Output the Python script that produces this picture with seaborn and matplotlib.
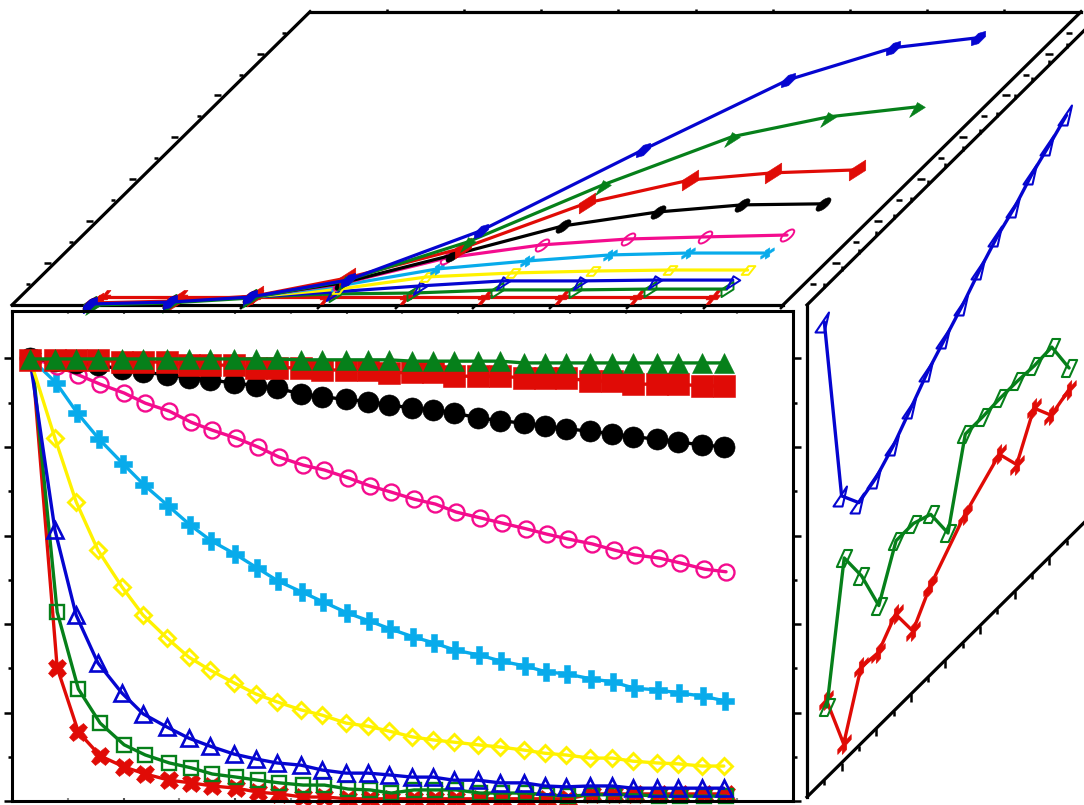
import numpy as np
import matplotlib
matplotlib.use("Agg")
import matplotlib.pyplot as plt
import seaborn as sns
from matplotlib.markers import MarkerStyle
from matplotlib.path import Path
from matplotlib.transforms import Affine2D

# ---------- front panel data ----------
time_h = [0.32,0.77,1.15,1.54,1.97,2.35,2.78,3.17,3.55,3.98,4.37,4.75,5.18,5.56,5.99,6.38,6.76,
          7.17,7.55,7.92,8.35,8.75,9.18,9.55,9.93,10.36,10.76,11.13,11.56,11.94,12.37,12.76]
red_square = [.997,.997,.997,.997,.992,.992,.992,.985,.985,.985,.979,.979,.979,.974,.974,.974,.967,
              .969,.969,.960,.960,.960,.956,.956,.956,.949,.949,.942,.942,.942,.938,.938]
green_tri = [.999]*12 + [.997]*5 + [.994]*5 + [.990]*10
black_circle = [1,.994,.990,.985,.976,.969,.963,.956,.951,.945,.938,.933,.920,.913,.908,.902,.895,
                .888,.884,.877,.866,.859,.854,.847,.841,.836,.829,.823,.818,.811,.805,.800]
pink_circle = [1,.983,.963,.942,.922,.899,.881,.856,.838,.820,.800,.777,.759,.748,.730,.712,.698,
               .682,.671,.653,.640,.628,.615,.603,.592,.581,.567,.556,.549,.538,.524,.518]
cyan_plus = [1,.945,.877,.818,.762,.714,.667,.624,.588,.558,.527,.497,.472,.450,.425,.407,.389,
             .371,.357,.341,.330,.316,.305,.292,.287,.276,.269,.255,.251,.244,.237,.226]
yellow_diamond = [1,.820,.676,.567,.484,.420,.368,.325,.296,.267,.242,.224,.206,.194,.176,.169,.158,
                  .145,.138,.133,.127,.122,.115,.108,.104,.097,.097,.090,.086,.084,.079,.079]
blue_tri = [1,.612,.420,.312,.244,.197,.167,.142,.124,.106,.095,.086,.081,.070,.063,.063,.059,
            .054,.054,.047,.047,.041,.041,.034,.032,.034,.034,.029,.029,.029,.029,.029]
green_square = [1,.427,.253,.176,.127,.104,.086,.075,.061,.054,.047,.041,.036,.036,.027,.025,.018,
                .025,.025,.025,.018,.018,.018,.014,.011,.014,.014,.014,.011,.011,.011,.011]
red_x = [1,.301,.156,.102,.077,.061,.047,.041,.034,.029,.020,.016,.009,.009] + [.005]*11 + [.016]*7

# ---------- top panel data (position, depth) ----------
head_x = [1.0,2.01,2.98]
head_z = [.05,.14,.38]
top_blue_x = [1.0,2.01,2.98,4.03,5.10,6.14,7.10,8.04,9.01]
top_blue_z = [.05,.14,.38,1.19,3.54,7.41,10.75,12.28,12.76]
top_green_x = [1.05,2.02,3.0,4.0,5.08,6.08,7.12,8.11,9.13]
top_green_z = [0,.10,.33,1.15,3.01,5.73,8.03,8.98,9.46]
top_red_x = [1.05,2.06,3.03,3.99,5.1,6.11,7.15,8.13,9.18]
top_red_z = [.10,.19,.43,1.29,2.72,4.87,5.97,6.31,6.45]
top_black_x = head_x + [3.99,5.06,6.1,7.15,8.15,9.19]
top_black_z = head_z + [1.05,2.39,3.77,4.44,4.78,4.83]
top_pink_x = head_x + [3.98,5.02,6.08,7.12,8.09,9.13]
top_pink_z = head_z + [1.0,2.25,2.87,3.15,3.25,3.34]
top_cyan_x = head_x + [3.98,5.04,6.1,7.10,8.08,9.11]
top_cyan_z = head_z + [.91,1.72,2.10,2.39,2.48,2.48]
top_yellow_x = head_x + [4.03,5.01,6.08,7.09,8.07,9.08]
top_yellow_z = head_z + [.76,1.34,1.53,1.62,1.67,1.67]
top_bluetri_x = head_x + [3.99,5.04,6.05,7.05,8.01,9.02]
top_bluetri_z = head_z + [.62,.91,1.15,1.15,1.19,1.19]
top_greensq_x = head_x + [4.04,5.04,6.09,7.1,8.06,9.06]
top_greensq_z = head_z + [.53,.57,.72,.72,.76,.76]
top_redx_x = [1.08,2.08,3.06,3.98,5.02,6.03,7.03,8.0,8.99]
top_redx_z = [.38]*9

# ---------- right panel data ----------
right_blue_x = [1,2,3,4,5,6,7,8,9,10,11,12,13,14,15]
right_blue = [1.035,.603,.549,.567,.601,.646,.692,.728,.764,.805,.841,.868,.904,.931,.960]
right_green_x = [1.15,2.15,3.15,4.15,5.15,6.15,7.15,8.15,9.15,10.15,11.15,12.15,13.15,14.15,15.15]
right_green = [.159,.457,.378,.272,.380,.380,.362,.281,.466,.466,.469,.469,.466,.469,.383]
right_red_x = [1.12,2.12,3.12,4.12,5.12,6.12,7.12,9.12,11.12,12.12,13.12,14.12,15.12]
right_red = [.176,.038,.172,.167,.215,.138,.201,.285,.344,.282,.371,.316,.334]

# ---------- colours ----------
RED, GREEN, BLUE = "#E00B06", "#06801A", "#0505D0"
PINK, CYAN, YELLOW, BLACK = "#F40C8E", "#08ABEB", "#FFF200", "#000000"

W, H, DPI = 1084, 805, 100
sns.set_theme(style="white")
plt.rcParams["font.family"] = ["DejaVu Sans"]
fig = plt.figure(figsize=(W / DPI, H / DPI), dpi=DPI, facecolor="white")

PX = 72 / DPI


def sheared(code, size_px, a, b, c, d):
    """A marker drawn as if the panel's affine squeeze applied to it."""
    m = MarkerStyle(code)
    p = m.get_path().transformed(m.get_transform())
    verts = p.vertices @ np.array([[a, c], [b, d]]).T
    q = Path(verts, p.codes)
    extent = np.max(np.abs(verts))
    return q, size_px * PX * extent / 0.5


def draw(ax, x, y, color, marker, ms, open_=False, lw=2.4, mew=1.7, **kw):
    sns.lineplot(x=np.asarray(x, float), y=np.asarray(y, float), ax=ax, color=color,
                 estimator=None, sort=False, errorbar=None, linewidth=lw, marker=marker,
                 markersize=ms, markeredgecolor=color,
                 markerfacecolor="none" if open_ else color,
                 markeredgewidth=mew if open_ else 0.4, clip_on=False, **kw)


# ---------- overlay for sheared panels ----------
over = fig.add_axes([0, 0, 1, 1])
over.set_xlim(0, W)
over.set_ylim(0, H)
over.axis("off")

T_top = Affine2D.from_values(77.1, 0, 21.29, 20.95, 12, H - 305) + Affine2D()
T_right = Affine2D.from_values(17.3, 17.13, 0, 442.5, 807, H - 797)
LK = dict(color="black", lw=2.3, clip_on=False, solid_capstyle="projecting")
TK = dict(color="black", ls="none", clip_on=False)

# top panel frame
over.plot([0, 10], [0, 0], transform=T_top + over.transData, **LK)
over.plot([10, 10], [0, 14], transform=T_top + over.transData, **LK)
over.plot([0, 10], [14, 14], transform=T_top + over.transData, **LK)
over.plot([0, 0], [0, 14], transform=T_top + over.transData, **LK)
slant = Path([(0, 0), (-1, -1)], [Path.MOVETO, Path.LINETO])
tr_t = T_top + over.transData
xt = np.arange(1, 11)
over.plot(xt, 0 * xt, marker=slant, ms=5, mew=1.8, transform=tr_t, **TK)
xt = np.arange(1, 10)
over.plot(xt, 0 * xt + 14, marker=2, ms=2.5, mew=1.8, transform=tr_t, **TK)
z_odd, z_even = np.arange(1, 14, 2), np.arange(2, 14, 2)
over.plot(0 * z_odd - 0.04, z_odd, marker=0, ms=3, mew=1.8, transform=tr_t, **TK)
over.plot(0 * z_even - 0.05, z_even, marker=0, ms=5, mew=1.8, transform=tr_t, **TK)
over.plot(0 * z_odd + 10.08, z_odd, marker=1, ms=4.3, mew=1.8, transform=tr_t, **TK)
over.plot(0 * z_even + 10.08, z_even, marker=1, ms=6, mew=1.8, transform=tr_t, **TK)

# top panel series
A_TOP = (0.75, 0.478, 0.0, 0.47)
top_series = [
    (top_redx_x, top_redx_z, RED, "X", 20, False),
    (top_greensq_x, top_greensq_z, GREEN, "s", 16, True),
    (top_bluetri_x, top_bluetri_z, BLUE, "^", 18, True),
    (top_yellow_x, top_yellow_z, YELLOW, "D", 13, True),
    (top_cyan_x, top_cyan_z, CYAN, "P", 18, False),
    (top_pink_x, top_pink_z, PINK, "o", 18, True),
    (top_black_x, top_black_z, BLACK, "o", 20, False),
    (top_red_x, top_red_z, RED, "s", 22, False),
    (top_green_x, top_green_z, GREEN, "^", 21, False),
    (top_blue_x, top_blue_z, BLUE, "h", 22, False),
]
for x, z, col, code, size, op in top_series:
    mk, ms = sheared(code, size, *A_TOP)
    draw(over, x, z, col, mk, ms, open_=op, lw=2.3, mew=1.4, transform=tr_t)

# right panel frame
tr_r = T_right + over.transData
V_TOP = 1.112
over.plot([0, 0], [0, V_TOP], transform=tr_r, **LK)
over.plot([0, 16.2], [0, 0], transform=tr_r, **LK)
over.plot([0, 16.2], [V_TOP, V_TOP], transform=tr_r, **LK)
x_odd, x_even = np.arange(1, 16, 2), np.arange(2, 16, 2)
over.plot(x_odd, 0 * x_odd, marker=3, ms=3.5, mew=1.8, transform=tr_r, **TK)
over.plot(x_even, 0 * x_even, marker=3, ms=5.5, mew=1.8, transform=tr_r, **TK)
xt = np.arange(1, 16)
over.plot(xt, 0 * xt + V_TOP, marker=2, ms=3.5, mew=1.8, transform=tr_r, **TK)

# right panel series
A_RIGHT = (0.45, 0.0, 0.45, 1.0)
right_series = [
    (right_red_x, right_red, RED, "X", 20, False),
    (right_green_x, right_green, GREEN, "s", 17, True),
    (right_blue_x, right_blue, BLUE, "^", 20, True),
]
for x, v, col, code, size, op in right_series:
    mk, ms = sheared(code, size, *A_RIGHT)
    draw(over, x, v, col, mk, ms, open_=op, lw=2.4, mew=1.5, transform=tr_r)
over.set_xlim(0, W)
over.set_ylim(0, H)
over.set_xlabel("")
over.set_ylabel("")

# ---------- front panel ----------
L, R, TOP, BOT = 12, 793, 311, 801
ax = fig.add_axes([L / W, 1 - BOT / H, (R - L) / W, (BOT - TOP) / H])
ax.patch.set_alpha(0)
t = np.asarray(time_h)
draw(ax, t + .04, red_x, RED, "X", 13.6)
draw(ax, t + .04, green_square, GREEN, "s", 10.5, open_=True)
draw(ax, t, blue_tri, BLUE, "^", 11, open_=True, mew=1.9)
draw(ax, t, yellow_diamond, YELLOW, "D", 8.6, open_=True, mew=2.1)
draw(ax, t + .02, cyan_plus, CYAN, "P", 12.4)
draw(ax, t + .04, pink_circle, PINK, "o", 11.5, open_=True)
draw(ax, t, black_circle, BLACK, "o", 15.2)
draw(ax, t, red_square, RED, "s", 15.8)
draw(ax, t, green_tri, GREEN, "^", 15)

ax.set_xlim(0, 14)
ax.set_ylim(0, (BOT - TOP) / 442.5)
ax.set_xlabel("")
ax.set_ylabel("")
ax.set_xticks(np.arange(0, 15, 2))
ax.set_xticks(np.arange(1, 15, 2), minor=True)
ax.set_yticks(np.arange(0, 1.01, .2))
ax.set_yticks(np.arange(.1, 1.0, .2), minor=True)
ax.tick_params(labelleft=False, labelbottom=False)
ax.tick_params(axis="y", which="major", left=True, right=True, direction="out", length=5.5, width=1.8, color="black")
ax.tick_params(axis="y", which="minor", left=True, right=True, direction="out", length=2.8, width=1.8, color="black")
ax.tick_params(axis="x", which="major", bottom=True, top=True, direction="in", length=2.5, width=1.5, color="#555555")
ax.tick_params(axis="x", which="minor", bottom=True, top=True, direction="in", length=2, width=1.5, color="#888888")
for s in ax.spines.values():
    s.set_visible(True)
    s.set_color("black")
    s.set_linewidth(2.2)

fig.savefig("out.png", dpi=DPI, facecolor="white")
